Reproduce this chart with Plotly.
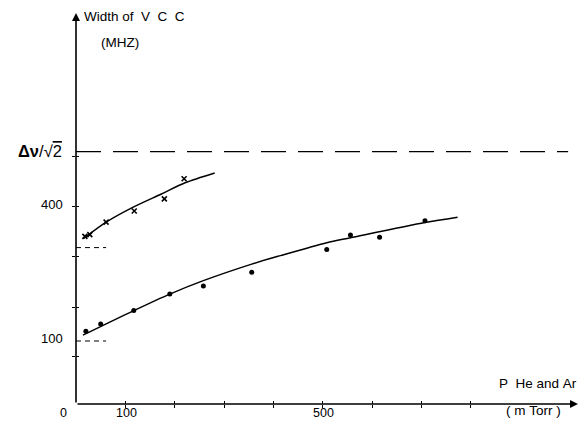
import plotly.graph_objects as go

# ---- data ----
# upper series (x markers), pressure in mTorr, width in MHz
p_cross = [18, 28, 61, 118, 179, 219]
w_cross = [334, 338, 366, 391, 418, 463]
# upper fitted curve
p_fit_cross = [15, 61, 113, 173, 221, 281]
w_fit_cross = [329, 366, 398, 429, 454, 476]

# lower series (dots)
p_dot = [20, 50, 117, 190, 258, 356, 508, 556, 615, 707]
w_dot = [122, 138, 168, 205, 223, 254, 305, 337, 332, 369]
# lower fitted curve
p_fit_dot = [14, 117, 190, 258, 356, 414, 508, 556, 707, 773]
w_fit_dot = [113, 168, 205, 235, 272, 291, 320, 331, 365, 377]

# reference levels
limit_level = 524          # Δν/√2
cross_intercept = 309
dot_intercept = 100

x_ticks = [100, 200, 300, 400, 500, 600, 700, 800]
y_ticks = [66, 176, 288, 400, 512]
x_labels = {0: "0", 100: "100", 500: "500"}
y_labels = {100: "100", 400: "400"}

X_MAX = 1017
Y_MIN, Y_MAX = -41, 834
DASH_END = 997
SHORT_END = 61

FONT = "Liberation Sans, Arial, sans-serif"
NB = "\u00a0"

fig = go.Figure()

# fitted curves
fig.add_trace(go.Scatter(x=p_fit_cross, y=w_fit_cross, mode="lines",
                         line=dict(color="black", width=1.5, shape="spline", smoothing=0.8),
                         hoverinfo="skip"))
fig.add_trace(go.Scatter(x=p_fit_dot, y=w_fit_dot, mode="lines",
                         line=dict(color="black", width=1.5, shape="spline", smoothing=0.8),
                         hoverinfo="skip"))
# data points
fig.add_trace(go.Scatter(x=p_cross, y=w_cross, mode="markers",
                         marker=dict(symbol="x-thin", size=5,
                                     line=dict(color="black", width=1.6)),
                         cliponaxis=False))
fig.add_trace(go.Scatter(x=p_dot, y=w_dot, mode="markers",
                         marker=dict(symbol="circle", size=5, color="black"),
                         cliponaxis=False))

# long dashed limit line
fig.add_trace(go.Scatter(x=[0, DASH_END], y=[limit_level, limit_level], mode="lines",
                         line=dict(color="black", width=1.3, dash="25px,12px"),
                         hoverinfo="skip"))
# short dashed intercept lines
for lvl in (cross_intercept, dot_intercept):
    fig.add_trace(go.Scatter(x=[0, SHORT_END], y=[lvl, lvl], mode="lines",
                             line=dict(color="black", width=1, dash="5px,4px"),
                             hoverinfo="skip"))

# invisible trace for the overlay axes (inner half of the crossing ticks)
fig.add_trace(go.Scatter(x=[None], y=[None], xaxis="x2", yaxis="y2",
                         mode="markers", hoverinfo="skip"))

axis_common = dict(showgrid=False, zeroline=False, showline=False,
                   showticklabels=False, tickcolor="black", tickwidth=1.3, ticklen=3)

fig.update_layout(
    width=582, height=421,
    margin=dict(l=76, r=4, t=13, b=17),
    paper_bgcolor="white", plot_bgcolor="white",
    showlegend=False,
    xaxis=dict(range=[0, X_MAX], tickvals=x_ticks, ticks="outside", **axis_common),
    yaxis=dict(range=[Y_MIN, Y_MAX], tickvals=y_ticks, ticks="outside", **axis_common),
    xaxis2=dict(range=[0, X_MAX], tickvals=x_ticks, ticks="inside",
                overlaying="x", anchor="y2", side="bottom", **axis_common),
    yaxis2=dict(range=[Y_MIN, Y_MAX], tickvals=y_ticks, ticks="inside",
                overlaying="y", anchor="x2", side="left", **axis_common),
    font=dict(family=FONT, color="black"),
)

# axes drawn as arrows
fig.add_annotation(x=0, y=Y_MAX, ax=0, ay=Y_MIN, xref="x", yref="y",
                   axref="x", ayref="y", text="", showarrow=True,
                   arrowhead=2, arrowsize=1, arrowwidth=1.6, arrowcolor="black")
fig.add_annotation(x=X_MAX, y=Y_MIN, ax=0, ay=Y_MIN, xref="x", yref="y",
                   axref="x", ayref="y", text="", showarrow=True,
                   arrowhead=2, arrowsize=1, arrowwidth=1.6, arrowcolor="black")

def label(text, x, y, xref="paper", yref="paper", size=12, xanchor="center",
          yanchor="middle", xshift=0, yshift=0):
    fig.add_annotation(text=text, x=x, y=y, xref=xref, yref=yref, showarrow=False,
                       xanchor=xanchor, yanchor=yanchor, xshift=xshift, yshift=yshift,
                       borderpad=0, font=dict(family=FONT, size=size, color="black"))

# tick labels
for v, t in x_labels.items():
    label(t, v, Y_MIN, xref="x", yref="y", size=12.5, yanchor="middle", yshift=-9,
          xshift=-13 if v == 0 else 1)
for v, t in y_labels.items():
    label(t, 0, v, xref="x", yref="y", size=13, xanchor="right", xshift=-12, yshift=2)

# limit label
label("<b>Δν</b>/√<span style='text-decoration:overline'>2</span>", 0, limit_level,
      xref="x", yref="y", size=16.5, xanchor="right", xshift=-13, yshift=1)

# axis titles (positions in axis-domain fractions of the 502 x 391 px plot area)
label(f"Width{NB}of{NB}{NB}V{NB}{NB}C{NB}{NB}C", 7/502, (391-4)/391,
      xref="x domain", yref="y domain", size=13.5, xanchor="left")
label("(MHZ)", 24/502, (391-29)/391, xref="x domain", yref="y domain",
      size=13.5, xanchor="left")
label(f"P{NB}{NB}He{NB}and{NB}Ar", 1.0, 21/391, xref="x domain", yref="y domain",
      size=13.5, xanchor="right")
label(f"({NB}m{NB}Torr{NB})", (533-76)/502, -6/391, xref="x domain", yref="y domain",
      size=13.5, xanchor="center")

fig.write_html("out.html")
